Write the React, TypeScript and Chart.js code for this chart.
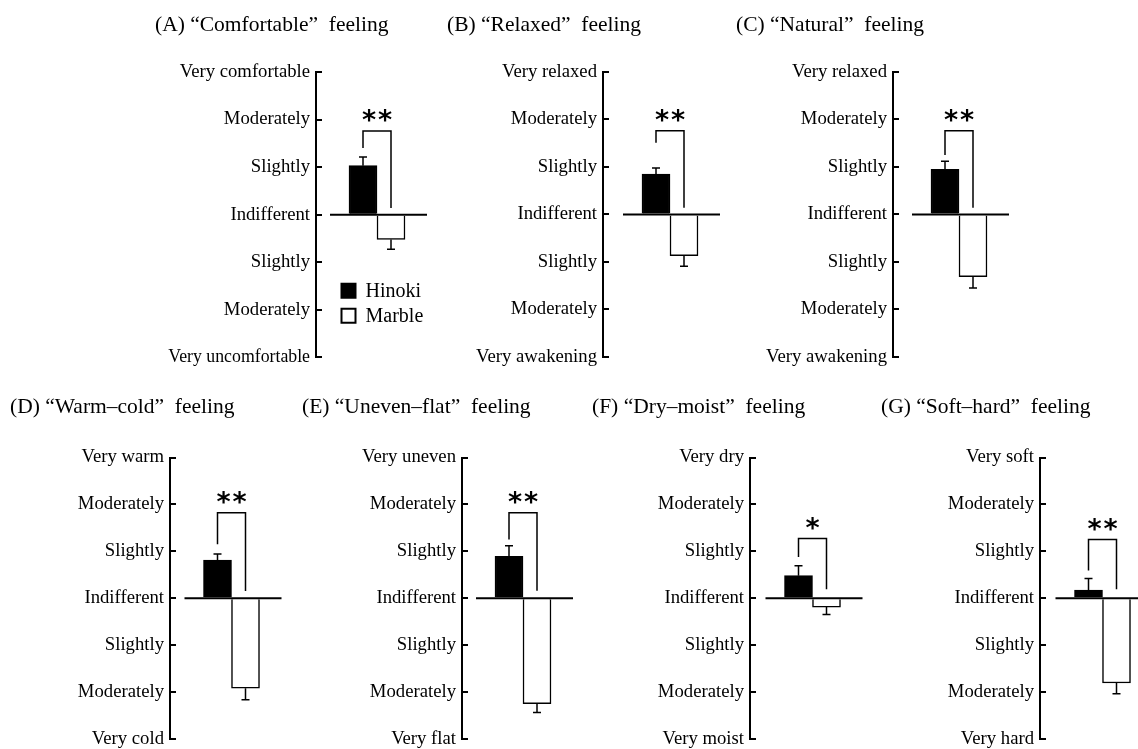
import React, { useEffect, useRef } from 'react';
import { Chart, registerables } from 'chart.js';

Chart.register(...registerables);

// ---------------- data ----------------
const panelTitles = [
  '(A) “Comfortable”  feeling',
  '(B) “Relaxed”  feeling',
  '(C) “Natural”  feeling',
  '(D) “Warm–cold”  feeling',
  '(E) “Uneven–flat”  feeling',
  '(F) “Dry–moist”  feeling',
  '(G) “Soft–hard”  feeling',
];
const topAnchors = ['Very comfortable', 'Very relaxed', 'Very relaxed', 'Very warm', 'Very uneven', 'Very dry', 'Very soft'];
const bottomAnchors = ['Very uncomfortable', 'Very awakening', 'Very awakening', 'Very cold', 'Very flat', 'Very moist', 'Very hard'];
// labels for +2, +1, 0, -1, -2
const middleLevels = ['Moderately', 'Slightly', 'Indifferent', 'Slightly', 'Moderately'];

const seriesNames = ['Hinoki', 'Marble'];
const hinokiMean = [1.03, 0.85, 0.95, 0.81, 0.89, 0.48, 0.17];
const hinokiSE = [0.18, 0.13, 0.17, 0.13, 0.23, 0.21, 0.25];
const marbleMean = [-0.52, -0.87, -1.31, -1.92, -2.25, -0.19, -1.81];
const marbleSE = [0.21, 0.22, 0.24, 0.25, 0.19, 0.16, 0.23];

const significance = ['**', '**', '**', '**', '**', '*', '**'];
const bracketTop = [1.76, 1.76, 1.76, 1.82, 1.82, 1.27, 1.25];
const bracketLeftEnd = [1.40, 1.51, 1.25, 1.15, 1.25, 0.88, 0.59];
const bracketRightEnd = [0.14, 0.14, 0.14, 0.15, 0.16, 0.19, 0.19];

// ---------------- layout (not data) ----------------
const LAYOUT = [
  { left: 155, top: 12, width: 283, height: 368, axisWidth: 161, titleGap: 34.2 },
  { left: 447, top: 12, width: 290, height: 368, axisWidth: 156, titleGap: 34.2 },
  { left: 736, top: 12, width: 289, height: 368, axisWidth: 157, titleGap: 34.2 },
  { left: 10, top: 394, width: 283, height: 368, axisWidth: 160, titleGap: 37.7 },
  { left: 302, top: 394, width: 282, height: 368, axisWidth: 160, titleGap: 37.7 },
  { left: 592, top: 394, width: 283, height: 368, axisWidth: 158, titleGap: 37.7 },
  { left: 881, top: 394, width: 284, height: 368, axisWidth: 159, titleGap: 37.7 },
];

const SERIF = "'Liberation Serif', 'Times New Roman', serif";

function tickLabel(idx: number, v: number): string {
  if (v === 3) return topAnchors[idx];
  if (v === -3) return bottomAnchors[idx];
  const k = 2 - v;
  return middleLevels[k] ?? '';
}

const decoPlugin = {
  id: 'panelDeco',
  afterDatasetsDraw(chart: any, _args: any, opts: any) {
    const idx: number = opts.idx;
    const ctx = chart.ctx;
    const y = chart.scales.y;
    const area = chart.chartArea;
    const b0 = chart.getDatasetMeta(0).data[0] as any;
    const b1 = chart.getDatasetMeta(1).data[0] as any;
    if (!b0 || !b1) return;
    const zeroPx = y.getPixelForValue(0);
    ctx.save();
    ctx.strokeStyle = '#000';
    ctx.fillStyle = '#000';

    // error bars
    const means = [hinokiMean[idx], marbleMean[idx]];
    const ses = [hinokiSE[idx], marbleSE[idx]];
    [b0, b1].forEach((bar, i) => {
      const m = means[i];
      const end = m >= 0 ? m + ses[i] : m - ses[i];
      const p0 = y.getPixelForValue(m);
      const p1 = y.getPixelForValue(end);
      ctx.lineWidth = 1.5;
      ctx.beginPath();
      ctx.moveTo(bar.x, p0);
      ctx.lineTo(bar.x, p1);
      ctx.moveTo(bar.x - 4, p1);
      ctx.lineTo(bar.x + 4, p1);
      ctx.stroke();
    });

    // zero line
    ctx.lineWidth = 2;
    ctx.beginPath();
    ctx.moveTo(b0.x - b0.width / 2 - 19, zeroPx);
    ctx.lineTo(b1.x + b1.width / 2 + 22, zeroPx);
    ctx.stroke();

    // significance bracket
    const topPx = y.getPixelForValue(bracketTop[idx]);
    ctx.lineWidth = 1.5;
    ctx.beginPath();
    ctx.moveTo(b0.x, y.getPixelForValue(bracketLeftEnd[idx]));
    ctx.lineTo(b0.x, topPx);
    ctx.lineTo(b1.x, topPx);
    ctx.lineTo(b1.x, y.getPixelForValue(bracketRightEnd[idx]));
    ctx.stroke();

    // stars
    const stars = significance[idx];
    const cx = (b0.x + b1.x) / 2;
    ctx.font = "bold 27px 'DejaVu Sans'";
    ctx.textAlign = 'center';
    ctx.textBaseline = 'alphabetic';
    for (let k = 0; k < stars.length; k++) {
      const sx = cx + (k - (stars.length - 1) / 2) * 16;
      ctx.fillText(stars[k], sx, topPx - 2);
    }

    // legend inside panel A
    if (opts.legend) {
      const ds = chart.data.datasets;
      const bx = area.left + 25.5;
      const rows = [y.getPixelForValue(-1.6), y.getPixelForValue(-1.6) + 25];
      ds.forEach((d: any, i: number) => {
        const cy = rows[i];
        ctx.fillStyle = d.backgroundColor;
        ctx.fillRect(bx, cy - 7, 14, 14);
        ctx.lineWidth = 2;
        ctx.strokeStyle = '#000';
        ctx.strokeRect(bx, cy - 7, 14, 14);
        ctx.fillStyle = '#000';
        ctx.font = `20px ${SERIF}`;
        ctx.textAlign = 'left';
        ctx.textBaseline = 'middle';
        ctx.fillText(d.label, bx + 24, cy + 1);
      });
    }
    ctx.restore();
  },
};

function Panel({ idx }: { idx: number }) {
  const ref = useRef<HTMLCanvasElement | null>(null);
  const L = LAYOUT[idx];
  useEffect(() => {
    if (!ref.current) return;
    const chart = new Chart(ref.current, {
      type: 'bar',
      data: {
        labels: [''],
        datasets: [
          {
            label: seriesNames[0],
            data: [hinokiMean[idx]],
            backgroundColor: '#000',
            borderColor: '#000',
            borderWidth: 1.5,
            barThickness: 28,
          },
          {
            label: seriesNames[1],
            data: [marbleMean[idx]],
            backgroundColor: '#fff',
            borderColor: '#000',
            borderWidth: 1.5,
            barThickness: 28,
          },
        ],
      },
      options: {
        responsive: false,
        animation: false,
        devicePixelRatio: 1,
        events: [],
        layout: { padding: { left: 0, right: 0, top: 0, bottom: 12 } },
        plugins: {
          legend: { display: false },
          tooltip: { enabled: false },
          title: {
            display: true,
            text: panelTitles[idx],
            align: 'start',
            color: '#000',
            font: { family: SERIF, size: 21.5, weight: 'normal' },
            padding: { top: 0, bottom: L.titleGap },
          },
          panelDeco: { idx, legend: idx === 0 },
        } as any,
        scales: {
          x: { display: false },
          y: {
            min: -3,
            max: 3,
            afterFit: (s: any) => {
              s.width = L.axisWidth;
            },
            ticks: {
              stepSize: 1,
              autoSkip: false,
              color: '#000',
              padding: 12,
              font: (c: any) => ({
                family: SERIF,
                size: c.tick && tickLabel(idx, c.tick.value).length > 16 ? 17.8 : 18.7,
              }),
              callback: (v: any) => tickLabel(idx, Number(v)),
            },
            grid: {
              drawOnChartArea: false,
              drawTicks: true,
              tickLength: -6,
              color: '#000',
              lineWidth: 2,
            },
            border: { display: true, color: '#000', width: 2 },
          },
        },
      },
      plugins: [decoPlugin],
    } as any);
    return () => chart.destroy();
  }, [idx]);
  return (
    <canvas
      ref={ref}
      width={L.width}
      height={L.height}
      style={{ position: 'absolute', left: L.left, top: L.top, width: L.width, height: L.height }}
    />
  );
}

export default function App() {
  return (
    <div
      style={{
        position: 'absolute',
        left: 0,
        top: 0,
        width: 1138,
        height: 749,
        overflow: 'hidden',
        background: '#fff',
      }}
    >
      {panelTitles.map((_, i) => (
        <Panel key={i} idx={i} />
      ))}
    </div>
  );
}
